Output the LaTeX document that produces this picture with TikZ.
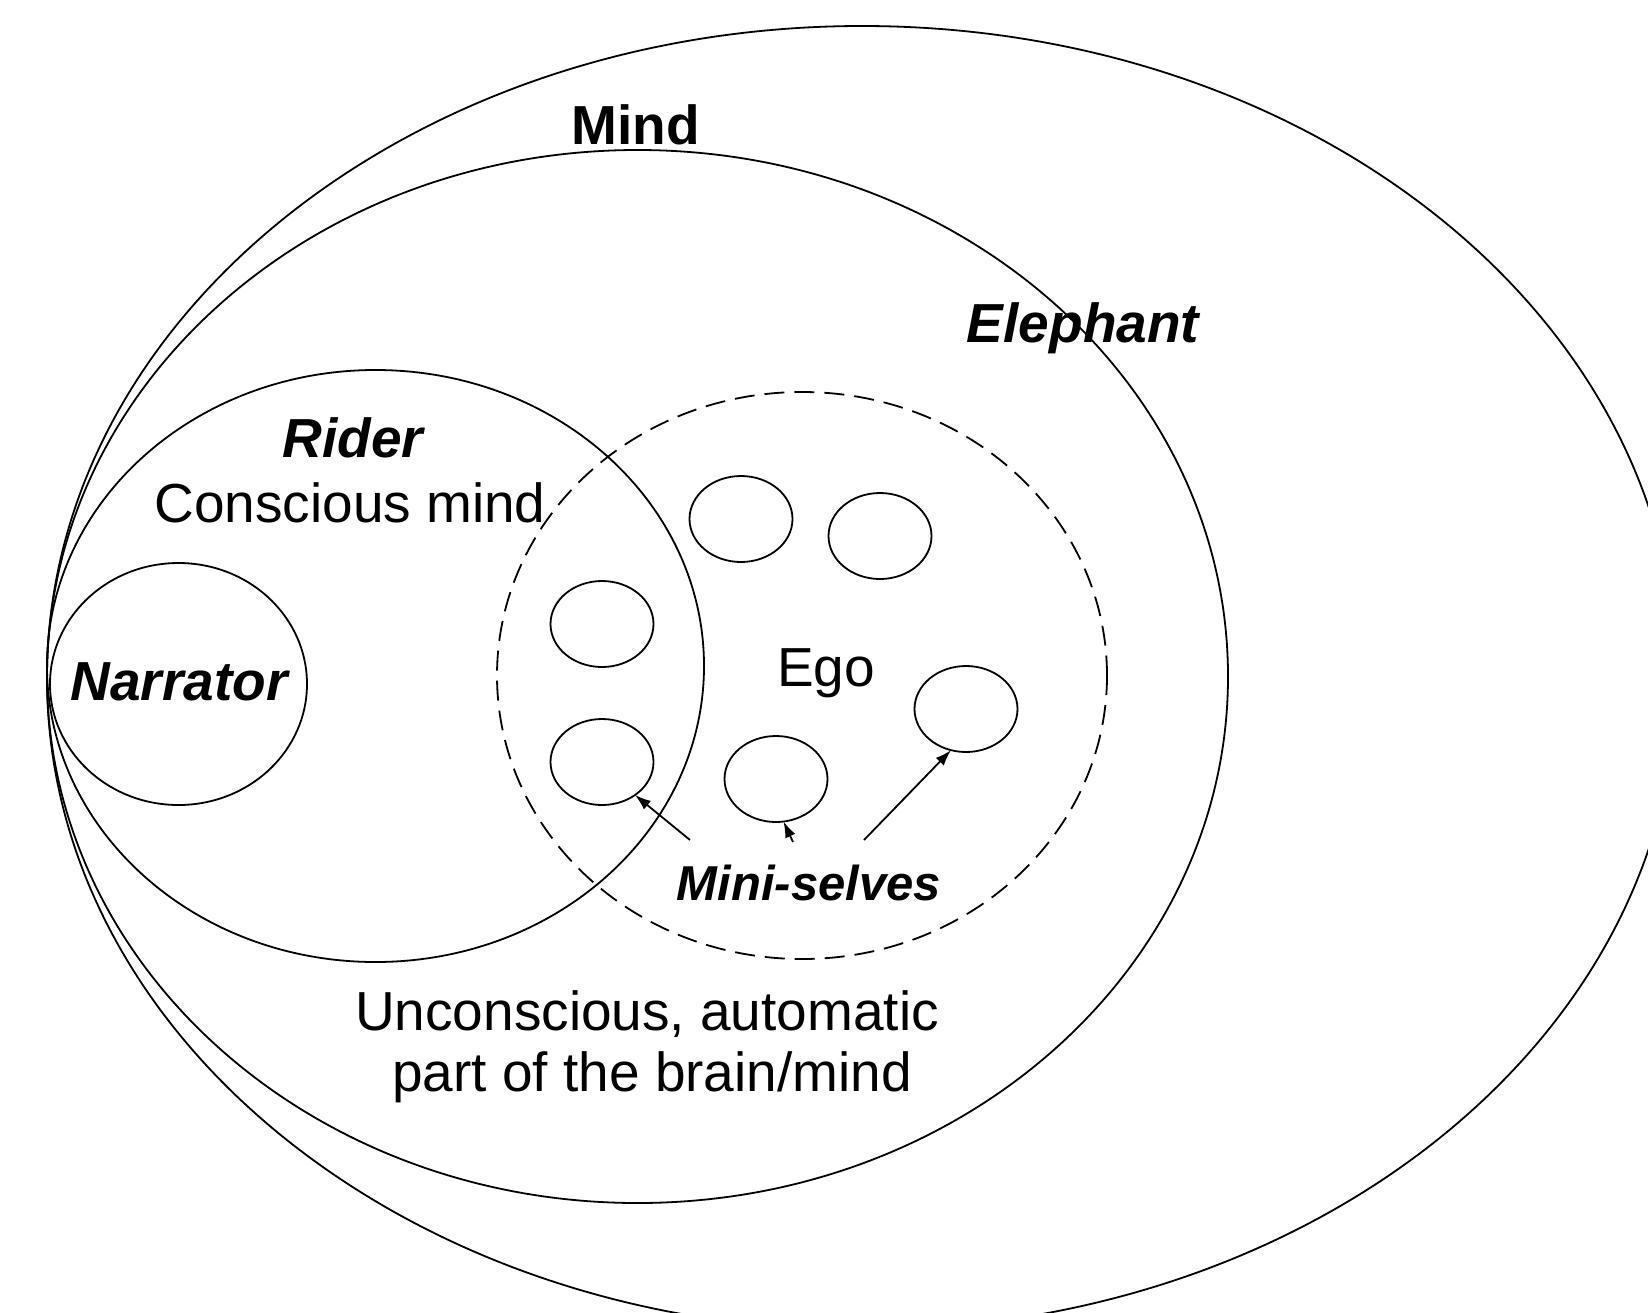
\documentclass[tikz,border=0pt]{standalone}
\usepackage{fontspec}
\setmainfont{Liberation Sans}
\usetikzlibrary{arrows.meta,shapes.geometric}
\begin{document}
\begin{tikzpicture}[x=1pt,y=-1pt,
  shapeline/.style={draw=black, line width=1.8pt},
  oval/.style={shapeline, ellipse, inner sep=0pt, outer sep=0pt},
  mini/.style={oval, minimum width=103pt, minimum height=86pt},
  txt/.style={anchor=base, inner sep=0pt, font=\fontsize{55}{61}\selectfont},
  btxt/.style={txt, font=\fontsize{55}{61}\selectfont\bfseries},
  bitxt/.style={txt, font=\fontsize{55}{61}\selectfont\bfseries\itshape},
  arr/.style={line width=1.8pt, -{Latex[length=16pt,width=11pt]}}]
\useasboundingbox (0,0) rectangle (1648,1312);
\fill[white] (0,0) rectangle (1648,1312);
\clip (0,0) rectangle (1648,1312);
% big ovals
\node[oval, minimum width=1630pt, minimum height=1304pt] (mind) at (862,678) {};
\node[oval, minimum width=1181pt, minimum height=1053pt] (elephant) at (637.5,676.5) {};
\node[oval, minimum width=657pt, minimum height=592pt] (rider) at (375.5,666) {};
\node[oval, minimum width=257pt, minimum height=242pt] (narr) at (178.5,684) {};
\node[oval, dash pattern=on 20pt off 10pt, minimum width=610pt, minimum height=567pt] (ego) at (802,675.5) {};
% mini-selves
\node[mini] (c1) at (741,519) {};
\node[mini] (c2) at (880,536) {};
\node[mini] (c3) at (602,624) {};
\node[mini] (c4) at (602,762) {};
\node[mini] (c5) at (776,779) {};
\node[mini] (c6) at (966,709) {};
% labels
\node[btxt] (mindlbl) at (636,144) {Mind};
\node[bitxt] (elelbl) at (1083,342) {Elephant};
\node[bitxt] (riderlbl) at (353,457) {Rider};
\node[txt] (conslbl) at (350,522) {Conscious mind};
\node[bitxt] (narrlbl) at (179,700) {Narrator};
\node[txt] (egolbl) at (826,686) {Ego};
\node[txt, font=\fontsize{49}{55}\selectfont\bfseries\itshape] (mslbl) at (809,900) {Mini-selves};
\node[txt] (un1) at (647,1030) {Unconscious, automatic};
\node[txt] (un2) at (652,1091) {part of the brain/mind};
% arrows
\coordinate (t1) at (690,840);
\coordinate (t2) at (793,842);
\coordinate (t3) at (864,840);
\draw[arr] (t1) -- (c4.315);
\draw[arr] (t2) -- (c5.280);
\draw[arr] (t3) -- (c6.250);
\end{tikzpicture}
\end{document}
